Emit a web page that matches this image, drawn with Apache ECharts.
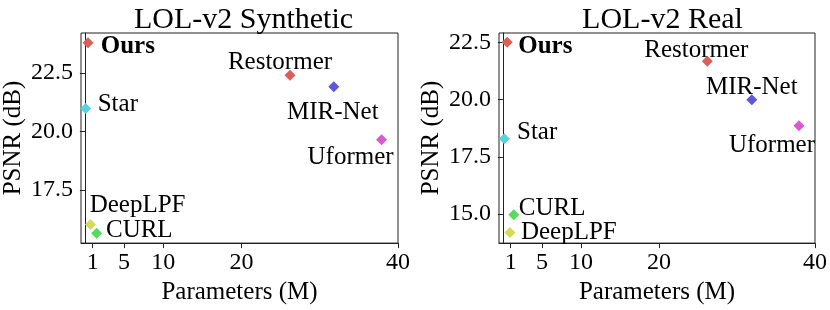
<!DOCTYPE html>
<html><head><meta charset="utf-8">
<script src="https://cdn.jsdelivr.net/npm/echarts@6/dist/echarts.min.js"></script>
<style>html,body{margin:0;padding:0;background:#fff}#c{width:830px;height:310px}</style>
</head><body><div id="c"></div>
<script>
// ---- data ----
const titles = ["LOL-v2 Synthetic", "LOL-v2 Real"];
const methods = ["Ours", "Restormer", "MIR-Net", "Uformer", "Star", "DeepLPF", "CURL"];
const synParams = [0.4, 26.2, 31.8, 37.9, 0.1, 0.7, 1.5];
const synPSNR   = [23.78, 22.39, 21.90, 19.64, 20.97, 16.01, 15.64];
const realParams = [0.55, 26.2, 31.9, 37.95, 0.18, 0.9, 1.4];
const realPSNR   = [22.52, 21.68, 20.00, 18.86, 18.29, 14.18, 14.96];
const xTicks = [1, 5, 10, 20, 40];
const synYTicks = [17.5, 20.0, 22.5];
const realYTicks = [15.0, 17.5, 20.0, 22.5];

// ---- styles ----
const FONT = "Liberation Serif";
const colors = {Ours:"#db5f57", Restormer:"#db5f57", "MIR-Net":"#5f57db", Uformer:"#db57d3", Star:"#57d3db", DeepLPF:"#d3db57", CURL:"#57db5f"};
// [align, offsetFromMarkerCenter]
const synLabelPos = {
  Ours:["left",[12.7,4]], Restormer:["center",[-10,-12.5]], "MIR-Net":["center",[-1,25.5]],
  Uformer:["center",[-31,18]], Star:["left",[12,-4]], DeepLPF:["left",[-0.7,-19.5]], CURL:["left",[9.3,-2.5]]
};
const realLabelPos = {
  Ours:["left",[11,4]], Restormer:["center",[-11,-11]], "MIR-Net":["center",[0,-12.5]],
  Uformer:["center",[-27,19.5]], Star:["left",[12.7,-6]], DeepLPF:["left",[11,-0.5]], CURL:["left",[5,-6.5]]
};

function items(xs, ys, pos) {
  return methods.map((m, i) => ({
    name: m, value: [xs[i], ys[i]],
    itemStyle: {color: colors[m], opacity: 1},
    label: {
      show: true, formatter: m, position: "inside", align: pos[m][0], verticalAlign: "middle",
      offset: pos[m][1],
      fontFamily: FONT, fontSize: 25, color: "#000",
      fontWeight: m === "Ours" ? "bold" : "normal"
    }
  }));
}

function xAxis(gi) {
  return {
    gridIndex: gi, type: "value", min: -0.5, max: 40,
    name: "Parameters (M)", nameLocation: "middle", nameGap: 30,
    nameTextStyle: {fontFamily: FONT, fontSize: 25, color: "#000"},
    axisLine: {show: true, lineStyle: {color: "#222", width: 1}},
    axisTick: {show: true, customValues: xTicks, length: 5, lineStyle: {color: "#222"}},
    axisLabel: {customValues: xTicks, fontFamily: FONT, fontSize: 24, color: "#000", margin: 8},
    splitLine: {show: false}
  };
}
function yAxis(gi, mn, mx, ticks) {
  return {
    gridIndex: gi, type: "value", min: mn, max: mx,
    name: "PSNR (dB)", nameLocation: "middle", nameGap: 55,
    nameTextStyle: {fontFamily: FONT, fontSize: 25, color: "#000"},
    axisLine: {show: true, lineStyle: {color: "#222", width: 1}},
    axisTick: {show: true, customValues: ticks, length: 5, lineStyle: {color: "#222"}},
    axisLabel: {customValues: ticks, formatter: v => v.toFixed(1), fontFamily: FONT, fontSize: 24, color: "#000", margin: 8, padding: [4, 0, 0, 0]},
    splitLine: {show: false}
  };
}

const chart = echarts.init(document.getElementById("c"), null, {renderer: "canvas"});
chart.setOption({
  animation: false,
  backgroundColor: "#fff",
  title: [
    {text: titles[0], left: 238.5, top: 0, textAlign: "center", textStyle: {fontFamily: FONT, fontSize: 30, fontWeight: "normal", color: "#000"}},
    {text: titles[1], left: 657.5, top: 0, textAlign: "center", textStyle: {fontFamily: FONT, fontSize: 30, fontWeight: "normal", color: "#000"}}
  ],
  grid: [
    {left: 81, top: 33, width: 317, height: 216, show: true, borderColor: "#222", borderWidth: 1, containLabel: false},
    {left: 499, top: 33, width: 316, height: 216, show: true, borderColor: "#222", borderWidth: 1, containLabel: false}
  ],
  xAxis: [xAxis(0), xAxis(1)],
  yAxis: [yAxis(0, 15.22, 24.2, synYTicks), yAxis(1, 13.72, 22.92, realYTicks)],
  series: [
    {type: "scatter", xAxisIndex: 0, yAxisIndex: 0, symbol: "diamond", symbolSize: 11, data: items(synParams, synPSNR, synLabelPos)},
    {type: "scatter", xAxisIndex: 1, yAxisIndex: 1, symbol: "diamond", symbolSize: 11, data: items(realParams, realPSNR, realLabelPos)}
  ]
});
</script></body></html>
